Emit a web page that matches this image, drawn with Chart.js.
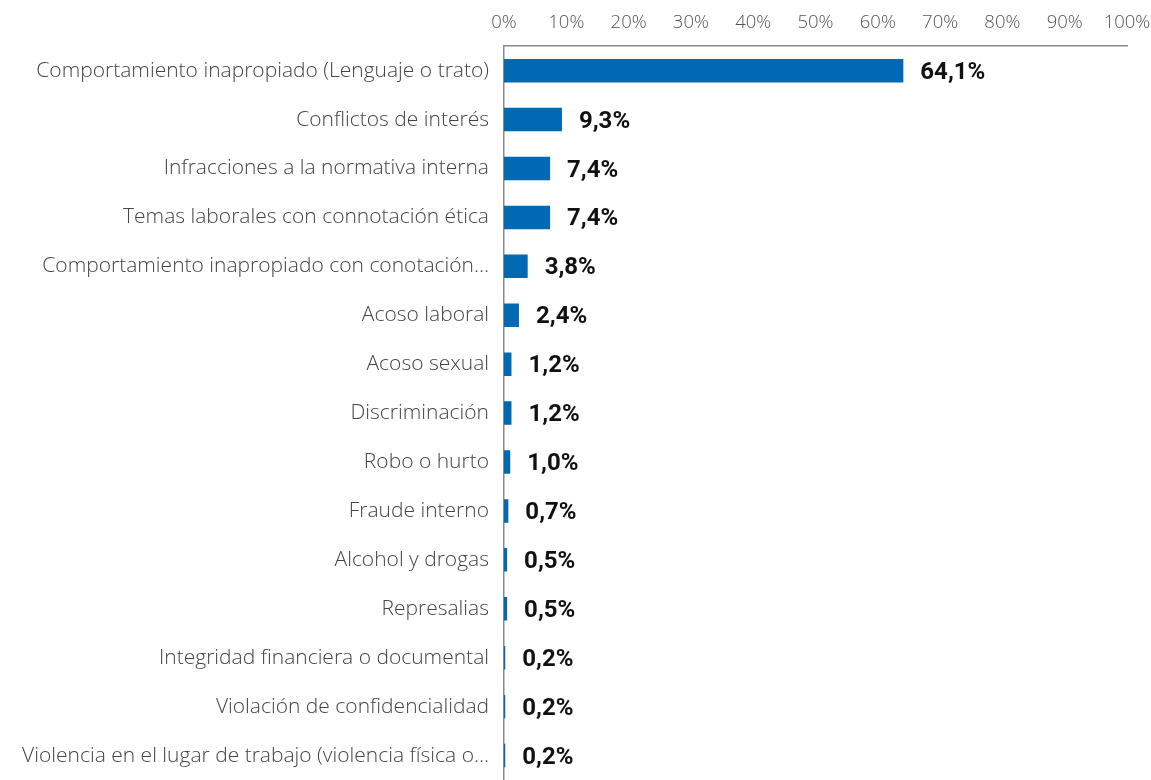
<!DOCTYPE html>
<html>
<head>
<meta charset="utf-8">
<script src="https://cdn.jsdelivr.net/npm/chart.js@4/dist/chart.umd.min.js"></script>
<style>
  html, body { margin: 0; padding: 0; background: #fff; }
  #wrap { width: 1151px; height: 780px; position: relative; }
</style>
</head>
<body>
<div id="wrap"><canvas id="chart"></canvas></div>
<script>
// categorias y valores (%)
const categories = [
    'Comportamiento inapropiado (Lenguaje o trato)',
    'Conflictos de interés',
    'Infracciones a la normativa interna',
    'Temas laborales con connotación ética',
    'Comportamiento inapropiado con conotación…',
    'Acoso laboral',
    'Acoso sexual',
    'Discriminación',
    'Robo o hurto',
    'Fraude interno',
    'Alcohol y drogas',
    'Represalias',
    'Integridad financiera o documental',
    'Violación de confidencialidad',
    'Violencia en el lugar de trabajo (violencia física o…'
];
const values = [64.1, 9.3, 7.4, 7.4, 3.8, 2.4, 1.2, 1.2, 1.0, 0.7, 0.5, 0.5, 0.2, 0.2, 0.2];
const tickValues = [0, 10, 20, 30, 40, 50, 60, 70, 80, 90, 100];

const BAR_COLOR = '#0069b4';
const LABEL_FONT = '"Open Sans", "Lato", sans-serif';

// etiquetas de valor al final de cada barra
const valueLabels = {
    id: 'valueLabels',
    afterDatasetsDraw(chart) {
        const ctx = chart.ctx;
        const meta = chart.getDatasetMeta(0);
        ctx.save();
        ctx.font = 'bold 24px "Roboto", sans-serif';
        ctx.fillStyle = '#111';
        ctx.textAlign = 'left';
        ctx.textBaseline = 'middle';
        meta.data.forEach((bar, i) => {
            const txt = values[i].toFixed(1).replace('.', ',') + '%';
            ctx.fillText(txt, bar.x + 17, bar.y + 2);
        });
        ctx.restore();
    }
};

const ctx = document.getElementById('chart').getContext('2d');
new Chart(ctx, {
    type: 'bar',
    data: {
        labels: categories,
        datasets: [{
            data: values,
            backgroundColor: BAR_COLOR,
            borderWidth: 0,
            categoryPercentage: 1,
            barPercentage: 0.48
        }]
    },
    options: {
        indexAxis: 'y',
        responsive: true,
        maintainAspectRatio: false,
        animation: false,
        layout: { padding: { left: 0, right: 0, top: 0, bottom: -3 } },
        plugins: {
            legend: { display: false },
            tooltip: { enabled: false }
        },
        scales: {
            x: {
                position: 'top',
                min: 0,
                max: 100,
                afterBuildTicks: (scale) => {
                    scale.ticks = tickValues.map(v => ({ value: v }));
                },
                afterFit: (scale) => {
                    scale.paddingRight = 24;
                    scale.paddingLeft = 0;
                },
                grid: { display: false, drawTicks: false },
                border: { display: true, color: '#8a8a8a', width: 1.5 },
                ticks: {
                    padding: 12,
                    color: '#555',
                    font: { family: LABEL_FONT, size: 18.5, weight: '300' },
                    callback: (v) => v + '%'
                }
            },
            y: {
                afterFit: (scale) => {
                    scale.width = 504;
                    scale.paddingTop = 0;
                    scale.paddingBottom = 0;
                },
                grid: { display: false, drawTicks: false },
                border: { display: true, color: '#8a8a8a', width: 1.5 },
                ticks: {
                    padding: 15,
                    color: '#444',
                    font: { family: LABEL_FONT, size: 21, weight: '300' }
                }
            }
        }
    },
    plugins: [valueLabels]
});
</script>
</body>
</html>
